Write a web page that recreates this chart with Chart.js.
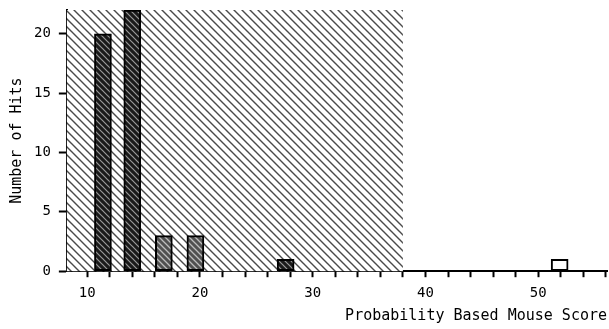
<!DOCTYPE html>
<html>
<head>
<meta charset="utf-8">
<script src="https://cdn.jsdelivr.net/npm/chart.js@4.4.1/dist/chart.umd.min.js"></script>
<style>
  html, body { margin: 0; padding: 0; background: #fff; }
  #wrap { width: 609px; height: 329px; }
</style>
</head>
<body>
<div id="wrap"><canvas id="hits"></canvas></div>
<script>
// Data - hits per score bin
const scores = [11.4, 14.0, 16.8, 19.6, 27.6, 51.9];
const hits = [20, 22, 3, 3, 1, 1];
const xTicks = [10, 12, 14, 16, 18, 20, 22, 24, 26, 28, 30, 32, 34, 36, 38, 40, 42, 44, 46, 48, 50, 52, 54, 56];
const yTicks = [0, 5, 10, 15, 20];
const shadeEnd = 38;

// diagonal "\" hatch tile
function hatch(size, bg, fg, w) {
  const c = document.createElement('canvas');
  c.width = size; c.height = size;
  const g = c.getContext('2d');
  g.fillStyle = bg;
  g.fillRect(0, 0, size, size);
  g.strokeStyle = fg;
  g.lineWidth = w;
  g.beginPath();
  g.moveTo(-1, -1); g.lineTo(size + 1, size + 1);
  g.moveTo(size - 2, -2); g.lineTo(size + 2, 2);
  g.moveTo(-2, size - 2); g.lineTo(2, size + 2);
  g.stroke();
  return document.getElementById('hits').getContext('2d').createPattern(c, 'repeat');
}

const shade = hatch(8, '#ffffff', '#4a4a4a', 1.4);
const darkFill = hatch(6, '#1a1a1a', '#9a9a9a', 1.2);
const midFill = hatch(6, '#505050', '#bdbdbd', 1.3);
const barFills = [darkFill, darkFill, midFill, midFill, darkFill, '#ffffff'];

// Hatched region behind the bars
const shadePlugin = {
  id: 'shade',
  beforeDatasetsDraw(chart) {
    const { ctx, chartArea, scales } = chart;
    const x0 = scales.x.getPixelForValue(scales.x.min);
    const x1 = scales.x.getPixelForValue(shadeEnd);
    ctx.save();
    ctx.fillStyle = shade;
    ctx.fillRect(x0, chartArea.top, x1 - x0, chartArea.bottom - chartArea.top);
    ctx.restore();
  }
};

const monoFont = 'DejaVu Sans Mono';

new Chart(document.getElementById('hits'), {
  type: 'bar',
  data: {
    datasets: [{
      data: scores.map((s, i) => ({ x: s, y: hits[i] })),
      backgroundColor: barFills,
      borderColor: '#000',
      borderWidth: 2,
      borderSkipped: false,
      barThickness: 17
    }]
  },
  options: {
    responsive: true,
    maintainAspectRatio: false,
    animation: false,
    layout: { padding: { top: 10, right: 2, left: 6, bottom: 4 } },
    plugins: {
      legend: { display: false },
      tooltip: { enabled: false }
    },
    scales: {
      x: {
        type: 'linear',
        offset: false,
        min: 8.2,
        max: 56.1,
        afterBuildTicks: (axis) => { axis.ticks = xTicks.map(v => ({ value: v })); },
        afterFit: (axis) => { axis.paddingLeft = 0; axis.paddingRight = 0; axis.height -= 8; },
        ticks: {
          autoSkip: false,
          maxRotation: 0,
          color: '#000',
          font: { family: monoFont, size: 14 },
          padding: 8,
          callback: (v) => (v % 10 === 0 ? v : '')
        },
        grid: { display: true, offset: false, drawOnChartArea: false, drawTicks: true, tickLength: 6, tickWidth: 2, color: '#000' },
        border: { display: true, color: '#000', width: 2 },
        title: {
          display: true,
          text: 'Probability Based Mouse Score',
          align: 'end',
          color: '#000',
          font: { family: monoFont, size: 15 },
          padding: { top: 5, bottom: 0 }
        }
      },
      y: {
        min: 0,
        max: 22,
        afterBuildTicks: (axis) => { axis.ticks = yTicks.map(v => ({ value: v })); },
        afterFit: (axis) => { axis.paddingTop = 0; axis.paddingBottom = 0; axis.width -= 7; },
        ticks: {
          color: '#000',
          font: { family: monoFont, size: 14 },
          padding: 8
        },
        grid: { display: true, drawOnChartArea: false, drawTicks: true, tickLength: 8, tickWidth: 2, color: '#000' },
        border: { display: true, color: '#000', width: 2 },
        title: {
          display: true,
          text: 'Number of Hits',
          color: '#000',
          font: { family: monoFont, size: 15 },
          padding: { top: 2, bottom: 7 }
        }
      }
    }
  },
  plugins: [shadePlugin]
});
</script>
</body>
</html>
